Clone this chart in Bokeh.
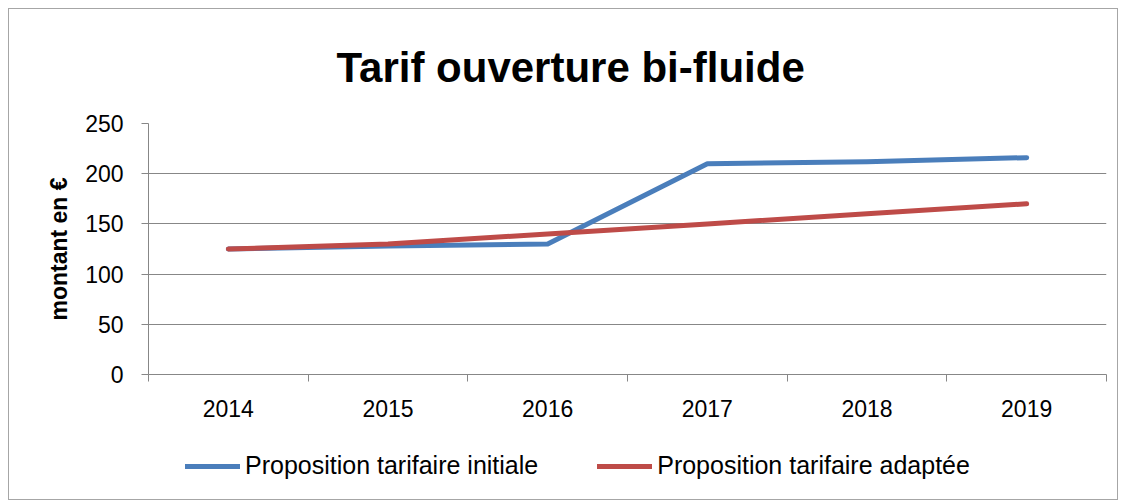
from bokeh.plotting import figure
from bokeh.models import Range1d, FixedTicker, Legend, LegendItem
from bokeh.layouts import column
from bokeh.embed import file_html
from bokeh.resources import INLINE

years = ["2014", "2015", "2016", "2017", "2018", "2019"]
initiale = [125, 128, 130, 210, 212, 216]
adaptee = [125, 130, 140, 150, 160, 170]
y_ticks = [0, 50, 100, 150, 200, 250]

title_text = "Tarif ouverture bi-fluide"
y_label = "montant en €"
name_initiale = "Proposition tarifaire initiale"
name_adaptee = "Proposition tarifaire adaptée"

FONT = "Liberation Sans"
GRAY = "#878787"
BLUE = "#4A7EBB"
RED = "#BE4B48"

xpos = [i + 0.5 for i in range(len(years))]

p = figure(width=1108, height=420, output_backend="svg", toolbar_location=None,
           x_range=Range1d(0, len(years)), y_range=Range1d(0, 250),
           min_border_left=139, min_border_right=11, min_border_top=113, min_border_bottom=55)
p.outline_line_color = None
p.background_fill_color = "white"
p.border_fill_color = "white"

# title
p.title.text = title_text
p.title.text_font = FONT
p.title.text_font_size = "42px"
p.title.text_font_style = "bold"
p.title.text_color = "black"
p.title.align = "left"
p.title.offset = 188
p.title.standoff = 65

# y axis
p.yaxis.ticker = FixedTicker(ticks=y_ticks, minor_ticks=[])
p.yaxis.axis_line_color = GRAY
p.yaxis.major_tick_line_color = GRAY
p.yaxis.major_tick_out = 7
p.yaxis.major_tick_in = 0
p.yaxis.major_label_standoff = 18
p.yaxis.major_label_text_font = FONT
p.yaxis.major_label_text_font_size = "23px"
p.yaxis.major_label_text_color = "black"
p.yaxis.axis_label = y_label
p.yaxis.axis_label_text_font = FONT
p.yaxis.axis_label_text_font_size = "23px"
p.yaxis.axis_label_text_font_style = "bold"
p.yaxis.axis_label_text_color = "black"
p.yaxis.axis_label_standoff = 10

# x axis: labels at category centres, ticks at boundaries
p.xaxis.ticker = FixedTicker(ticks=xpos, minor_ticks=list(range(len(years) + 1)))
p.xaxis.major_label_overrides = {x: y for x, y in zip(xpos, years)}
p.xaxis.axis_line_color = GRAY
p.xaxis.major_tick_line_color = None
p.xaxis.major_tick_out = 0
p.xaxis.major_tick_in = 0
p.xaxis.minor_tick_line_color = GRAY
p.xaxis.minor_tick_out = 7
p.xaxis.minor_tick_in = 0
p.xaxis.major_label_standoff = 18
p.xaxis.major_label_text_font = FONT
p.xaxis.major_label_text_font_size = "23px"
p.xaxis.major_label_text_color = "black"

p.xgrid.grid_line_color = None
p.ygrid.ticker = FixedTicker(ticks=y_ticks)
p.ygrid.grid_line_color = GRAY
p.ygrid.grid_line_width = 1

p.line(xpos, initiale, line_color=BLUE, line_width=5, line_cap="round", line_join="round")
p.line(xpos, adaptee, line_color=RED, line_width=5, line_cap="round", line_join="round")

# legend strip below the chart (its series renderers are hidden; only the legend shows)
p2 = figure(width=1108, height=70, output_backend="svg", toolbar_location=None,
            x_range=Range1d(0, len(years)), y_range=Range1d(0, 250),
            x_axis_type=None, y_axis_type=None,
            min_border_left=139, min_border_right=11, min_border_top=0, min_border_bottom=0)
p2.outline_line_color = None
p2.grid.visible = False
k1 = p2.line(xpos, initiale, line_color=BLUE, line_width=5, line_cap="round", visible=False)
k2 = p2.line(xpos, adaptee, line_color=RED, line_width=5, line_cap="round", visible=False)
legend = Legend(items=[LegendItem(label=name_initiale, renderers=[k1]),
                       LegendItem(label=name_adaptee, renderers=[k2])],
                orientation="horizontal", location=(37, 19),
                glyph_width=55, glyph_height=26, label_height=26, label_standoff=5,
                spacing=59, padding=0, margin=0,
                border_line_color=None, background_fill_alpha=0, inactive_fill_alpha=0,
                label_text_font=FONT, label_text_font_size="25px", label_text_color="black")
p2.add_layout(legend, "center")

layout = column(p, p2, spacing=0)
layout.styles = {"border": "1px solid #a6a6a6"}
layout.margin = (8, 0, 0, 8)

open("out.html", "w").write(file_html(layout, INLINE))
